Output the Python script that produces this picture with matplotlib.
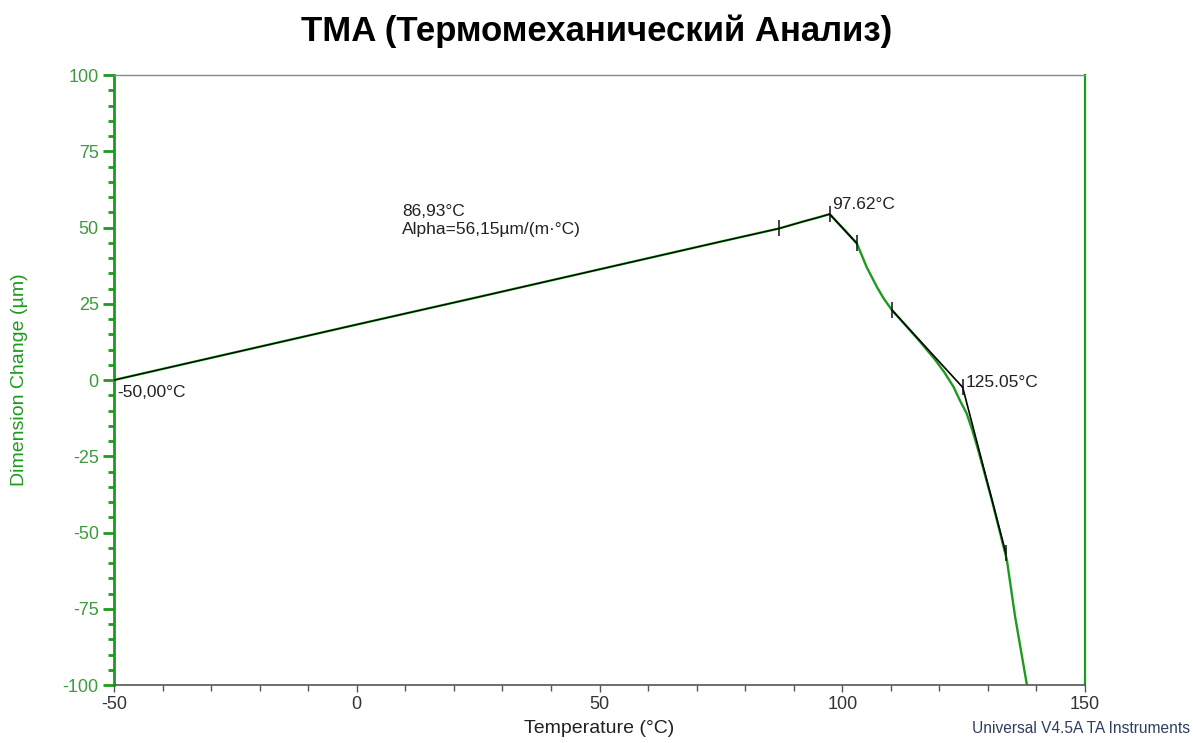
import matplotlib

matplotlib.use("Agg")
import matplotlib.pyplot as plt
from matplotlib.ticker import MultipleLocator

plt.rcParams["font.family"] = ["Liberation Sans", "DejaVu Sans"]
plt.rcParams["axes.unicode_minus"] = False

# measured TMA curve (green)
TEMP = [-50, -25, 0, 25, 50, 75, 87, 92, 95, 97.4, 100.0, 103.0, 105.0,
        107.1, 108.5, 110.2, 113, 116, 119, 121, 122.9, 124.2, 125.6,
        126.8, 128.0, 130.8, 133.9, 135.6, 138.0]
DIM = [0, 9.1, 18.2, 27.2, 36.3, 45.4, 49.7, 52.0, 53.3, 54.4, 50.0, 44.8, 37.1,
       30.6, 26.8, 23.0, 18.0, 12.6, 6.9, 2.6, -2.2, -6.6, -10.9,
       -16.5, -23.0, -39.3, -59.0, -77.6, -99.7]

# analysis overlays (black)
BASE_T = [-50, -25, 0, 25, 50, 75, 87, 92, 95, 97.4]
BASE_D = [0, 9.1, 18.2, 27.2, 36.3, 45.4, 49.7, 52.0, 53.3, 54.4]
SEGMENTS = [
    ([97.4, 103.0], [54.4, 44.8]),
    ([110.2, 124.8], [23.0, -2.4]),
    ([124.8, 133.7], [-2.4, -56.8]),
]
MARK_T = [86.93, 97.4, 103.0, 110.2, 124.8, 133.7]
MARK_D = [49.7, 54.4, 44.8, 23.0, -2.4, -56.8]

GREEN = "#1e9a1e"

fig = plt.figure(figsize=(11.93, 7.43), dpi=100)
ax = fig.add_axes([0.0956, 0.078, 0.8139, 0.821])

ax.plot(TEMP, DIM, color=GREEN, lw=1.7, zorder=2)
ax.plot(BASE_T, BASE_D, color="black", lw=0.9, zorder=3)
for xs, ys in SEGMENTS:
    ax.plot(xs, ys, color="black", lw=1.2, zorder=3)
ax.plot(MARK_T, MARK_D, ls="none", marker="|", ms=12, mew=1.1,
        color="#111111", zorder=4)

ax.text(-49.3, -4.2, "-50,00°C", fontsize=12.5, color="#222222",
        ha="left", va="center")
ax.text(9.3, 57.6, "86,93°C\nAlpha=56,15µm/(m·°C)", fontsize=12.5,
        color="#222222", ha="left", va="top", linespacing=1.2)
ax.text(97.9, 57.4, "97.62°C", fontsize=12.5, color="#222222",
        ha="left", va="center")
ax.text(125.4, -0.7, "125.05°C", fontsize=12.5, color="#222222",
        ha="left", va="center")

ax.set_xlim(-50, 150)
ax.set_ylim(-100, 100)
ax.xaxis.set_major_locator(MultipleLocator(50))
ax.xaxis.set_minor_locator(MultipleLocator(10))
ax.yaxis.set_major_locator(MultipleLocator(25))
ax.yaxis.set_minor_locator(MultipleLocator(5))

ax.tick_params(axis="y", which="major", length=8, width=2, color=GREEN,
               labelcolor="#3f9a3f", labelsize=13, pad=3)
ax.tick_params(axis="y", which="minor", length=4, width=2, color=GREEN)
ax.tick_params(axis="x", which="major", length=5, width=1, color="#555555",
               labelcolor="#333333", labelsize=13, pad=3)
ax.tick_params(axis="x", which="minor", length=4, width=1, color="#555555")

ax.spines["left"].set_color(GREEN)
ax.spines["left"].set_linewidth(2.0)
ax.spines["right"].set_color(GREEN)
ax.spines["right"].set_linewidth(1.6)
ax.spines["top"].set_color("#888888")
ax.spines["top"].set_linewidth(1.0)
ax.spines["bottom"].set_color("#555555")
ax.spines["bottom"].set_linewidth(1.2)

ax.set_xlabel("Temperature (°C)", fontsize=14, color="#222222")
ax.xaxis.set_label_coords(0.5, -0.057)
ax.set_ylabel("Dimension Change (µm)", fontsize=14, color=GREEN)
ax.yaxis.set_label_coords(-0.089, 0.5)

fig.text(0.5, 0.958, "TMA (Термомеханический Анализ)", fontsize=25,
         fontweight="bold", ha="center", va="center", color="black")
fig.text(0.9975, 0.02, "Universal V4.5A TA Instruments", fontsize=11.2,
         color="#2e3e5e", ha="right", va="center")

fig.savefig("out.png", dpi=100)
